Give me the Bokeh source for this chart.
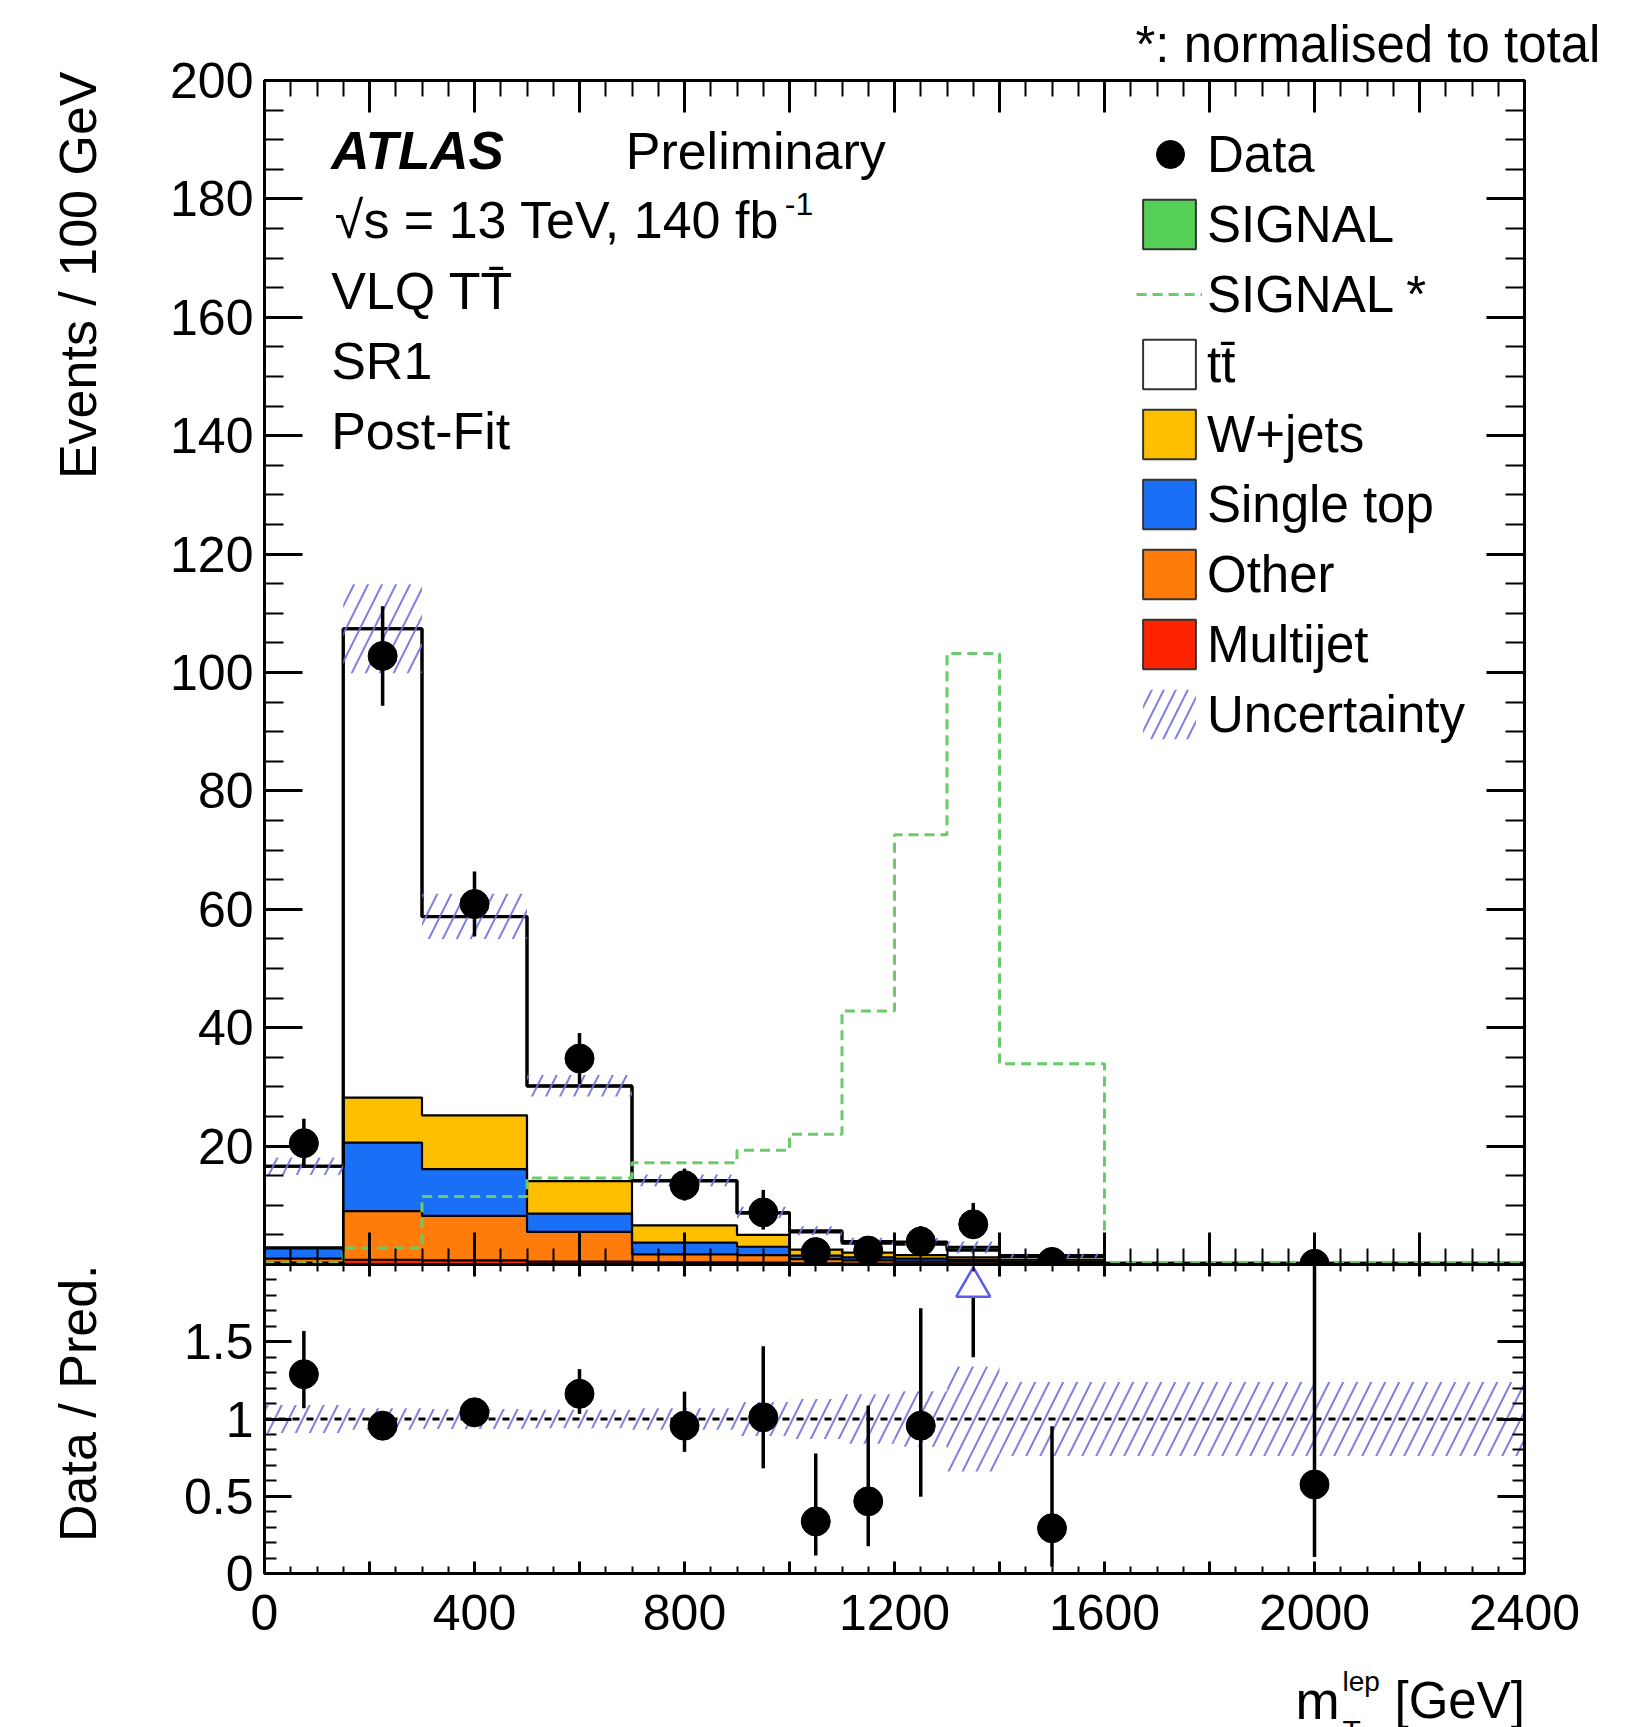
import numpy as np
from bokeh.plotting import figure
from bokeh.models import (Range1d, LinearAxis, FixedTicker, Label, Legend,
                          LegendItem, Span)
from bokeh.core.properties import value
from bokeh.layouts import column, row
from bokeh.embed import file_html
from bokeh.resources import INLINE

# ------------------------------------------------------------------ data
bin_edges = [0, 150, 300, 500, 700, 900, 1000, 1100, 1200, 1300, 1400, 1600, 2400]

multijet   = [0.30, 0.80, 0.70, 0.50, 0.35, 0.30, 0.20, 0.15, 0.10, 0.10, 0.05, 0.02]
other      = [0.70, 8.20, 7.50, 5.00, 1.35, 1.30, 0.70, 0.55, 0.40, 0.40, 0.25, 0.04]
single_top = [1.70, 11.6, 7.90, 3.10, 2.00, 1.40, 0.60, 0.50, 0.50, 0.30, 0.20, 0.04]
w_jets     = [0.20, 7.60, 9.10, 5.50, 2.90, 2.00, 1.00, 0.80, 0.60, 0.40, 0.30, 0.05]
ttbar      = [13.7, 79.2, 33.55, 16.0, 7.50, 3.65, 3.00, 1.60, 1.80, 1.20, 0.50, 0.05]
signal     = [0.00, 0.00, 0.05, 0.10, 0.10, 0.15, 0.20, 0.30, 0.40, 0.50, 0.20, 0.00]
signal_normalised = [0.3, 2.8, 11.5, 14.6, 17.2, 19.3, 22.0, 42.8, 72.6, 103.2, 33.9, 0.3]
rel_uncertainty = [0.09, 0.07, 0.065, 0.06, 0.07, 0.11, 0.13, 0.16, 0.18, 0.34, 0.24, 0.24]

data_x      = [75, 225, 400, 600, 800, 950, 1050, 1150, 1250, 1350, 1500, 2000]
data_y      = [20.5, 102.8, 60.9, 34.8, 13.4, 8.8, 2.1, 2.35, 3.9, 6.8, 0.44, 0.12]
data_err_up = [4.1, 8.4, 5.5, 4.3, 2.8, 3.8, 1.5, 1.6, 2.6, 3.6, 0.6, 0.15]
data_err_dn = [3.9, 8.4, 5.5, 4.3, 2.6, 2.9, 1.4, 1.4, 2.0, 2.5, 0.4, 0.12]

ratio_y      = [1.29, 0.957, 1.043, 1.163, 0.957, 1.011, 0.337, 0.467, 0.957, 2.38, 0.293, 0.576]
ratio_err_up = [0.28, 0.08, 0.09, 0.16, 0.22, 0.46, 0.44, 0.62, 0.76, 1.60, 0.66, 1.60]
ratio_err_dn = [0.22, 0.08, 0.09, 0.13, 0.17, 0.33, 0.22, 0.29, 0.46, 0.98, 0.25, 0.47]

x_major_ticks = [0, 200, 400, 600, 800, 1000, 1200, 1400, 1600, 1800, 2000, 2200, 2400]
x_tick_labels = ["0", "", "400", "", "800", "", "1200", "", "1600", "", "2000", "", "2400"]
x_minor_ticks = list(range(0, 2401, 50))
y_main_ticks = [20, 40, 60, 80, 100, 120, 140, 160, 180, 200]
y_main_minor = list(range(0, 201, 5))
y_ratio_ticks = [0, 0.5, 1, 1.5]
y_ratio_labels = ["0", "0.5", "1", "1.5"]
y_ratio_minor = [round(0.1 * i, 1) for i in range(21)]

FONT = "Liberation Sans"

C_SIGNAL = "#55cf55"
C_WJETS = "#fdbf00"
C_STOP = "#1a6ff7"
C_OTHER = "#ff7b0a"
C_MULTI = "#ff2400"
C_HATCH = "#7272de"
HATCH_SCALE = 28

edges = np.array(bin_edges, dtype=float)
left, right = edges[:-1], edges[1:]
NAN1 = [float("nan")]

W_LEFT = 120            # width of the left caption strip
BORDER_L = 264 - W_LEFT
BORDER_R = 111
x_range = Range1d(0, 2400)


def style_axis(ax, major_in, minor_in, labels, font_size="50px", standoff=10, overrides=None):
    ax.axis_line_width = 3
    ax.axis_line_color = "black"
    ax.major_tick_in = major_in
    ax.major_tick_out = 0
    ax.minor_tick_in = minor_in
    ax.minor_tick_out = 0
    ax.major_tick_line_width = 3
    ax.minor_tick_line_width = 2
    ax.major_tick_line_color = "black"
    ax.minor_tick_line_color = "black"
    if labels:
        ax.major_label_text_font = FONT
        ax.major_label_text_font_size = font_size
        ax.major_label_text_color = "black"
        ax.major_label_standoff = standoff
        if overrides is not None:
            ax.major_label_overrides = overrides
    else:
        ax.major_label_text_font_size = "0px"
        ax.major_label_standoff = 0


def bare(fig):
    fig.xgrid.visible = False
    fig.ygrid.visible = False
    fig.background_fill_color = "white"
    fig.border_fill_color = "white"


def add_label(fig, x, y, text, size, style="normal", angle=0.0, align="left"):
    fig.add_layout(Label(x=x, y=y, text=text, text_font=FONT, text_font_size=size,
                         text_font_style=style, text_color="black", angle=angle,
                         text_align=align, text_baseline="middle"))


# ------------------------------------------------------------------ main panel
main = figure(frame_width=1260, frame_height=1184, x_range=x_range,
              y_range=Range1d(0, 200), x_axis_location=None, y_axis_location=None,
              toolbar_location=None, output_backend="svg",
              min_border_left=BORDER_L, min_border_right=BORDER_R, min_border_top=80,
              min_border_bottom=0)
bare(main)
main.outline_line_color = "black"
main.outline_line_width = 3

# note above the frame, running towards the right edge as in the original
main.title.text = "*: normalised to total"
main.title.align = "left"
main.title.offset = 871
main.title.standoff = 16
main.title.text_font = FONT
main.title.text_font_size = "51px"
main.title.text_font_style = "normal"
main.title.text_color = "black"

x_ticker = FixedTicker(ticks=x_major_ticks, minor_ticks=x_minor_ticks)
y_ticker = FixedTicker(ticks=y_main_ticks, minor_ticks=y_main_minor)
x_overrides = {t: lab for t, lab in zip(x_major_ticks, x_tick_labels)}

ax = LinearAxis(ticker=y_ticker); style_axis(ax, 38, 19, True, standoff=11); main.add_layout(ax, "left")
ax = LinearAxis(ticker=y_ticker); style_axis(ax, 38, 19, False); main.add_layout(ax, "right")
ax = LinearAxis(ticker=x_ticker); style_axis(ax, 32, 16, False); main.add_layout(ax, "above")
ax = LinearAxis(ticker=x_ticker); style_axis(ax, 32, 16, False); main.add_layout(ax, "below")

components = [(multijet, C_MULTI), (other, C_OTHER), (single_top, C_STOP),
              (w_jets, C_WJETS), (ttbar, "white"), (signal, C_SIGNAL)]
bottom = np.zeros(len(left))
tops = []
for vals, col in components:
    top = bottom + np.array(vals)
    main.quad(left=left, right=right, bottom=bottom, top=top, fill_color=col,
              line_color=None)
    tops.append(top)
    bottom = top
for i, top in enumerate(tops):
    main.step(x=edges, y=np.append(top, top[-1]), mode="after", line_color="black",
              line_width=3 if i >= 4 else 2.2)

total = tops[-1]
unc = np.array(rel_uncertainty)
main.quad(left=left, right=right, bottom=total * (1 - unc), top=total * (1 + unc),
          fill_color=None, line_color=None, hatch_pattern="/", hatch_color=C_HATCH,
          hatch_alpha=0.9, hatch_scale=HATCH_SCALE, hatch_weight=2)

sig_norm = np.array(signal_normalised)
r_signorm = main.step(x=edges, y=np.append(sig_norm, sig_norm[-1]), mode="after",
                      line_color="#6acb6a", line_dash="10 6", line_width=3)

dx = np.array(data_x, dtype=float)
dy = np.array(data_y)
main.segment(x0=dx, y0=dy - np.array(data_err_dn), x1=dx, y1=dy + np.array(data_err_up),
             line_color="black", line_width=3.5)
main.scatter(dx, dy, size=29, marker="circle", fill_color="black", line_color="black")

# legend proxies (a single NaN entry: nothing is drawn in the plot)
leg_data = main.scatter(NAN1, NAN1, marker="circle", fill_color="black", line_color="black")


def leg_box(fill):
    return main.quad(left=NAN1, right=NAN1, top=NAN1, bottom=NAN1, fill_color=fill,
                     line_color="#333333", line_width=2)


leg_sig = leg_box(C_SIGNAL)
leg_tt = leg_box("white")
leg_w = leg_box(C_WJETS)
leg_st = leg_box(C_STOP)
leg_ot = leg_box(C_OTHER)
leg_mj = leg_box(C_MULTI)
leg_unc = main.quad(left=NAN1, right=NAN1, top=NAN1, bottom=NAN1, fill_color=None,
                    line_color=None, hatch_pattern="/", hatch_color=C_HATCH,
                    hatch_alpha=0.9, hatch_scale=24, hatch_weight=2)

legend_data = Legend(items=[LegendItem(label=value("Data"), renderers=[leg_data])],
                     location=(871, 1075), glyph_width=70, glyph_height=70,
                     label_height=70, label_standoff=2, padding=0, margin=0,
                     border_line_alpha=0, background_fill_alpha=0,
                     label_text_font=FONT, label_text_font_size="51px",
                     label_text_color="black")
legend_main = Legend(items=[LegendItem(label=value("SIGNAL"), renderers=[leg_sig]),
                            LegendItem(label=value("SIGNAL *"), renderers=[r_signorm]),
                            LegendItem(label=value("tt\u0304"), renderers=[leg_tt]),
                            LegendItem(label=value("W+jets"), renderers=[leg_w]),
                            LegendItem(label=value("Single top"), renderers=[leg_st]),
                            LegendItem(label=value("Other"), renderers=[leg_ot]),
                            LegendItem(label=value("Multijet"), renderers=[leg_mj]),
                            LegendItem(label=value("Uncertainty"), renderers=[leg_unc])],
                     location=(872, 519), glyph_width=66, glyph_height=62,
                     label_height=57, spacing=8, label_standoff=5, padding=0,
                     margin=0, border_line_alpha=0, background_fill_alpha=0,
                     label_text_font=FONT, label_text_font_size="51px",
                     label_text_color="black")
main.add_layout(legend_data)
main.add_layout(legend_main)

add_label(main, 127, 188.1, "ATLAS", "53px", style="bold italic")
add_label(main, 688, 188.1, "Preliminary", "52px")
add_label(main, 134, 176.5, "\u221As = 13 TeV, 140 fb", "52px")
add_label(main, 991, 179.1, "-1", "32px")
add_label(main, 127, 164.4, "VLQ TT\u0304", "52px")
add_label(main, 127, 152.6, "SR1", "52px")
add_label(main, 127, 140.8, "Post-Fit", "52px")

# ------------------------------------------------------------------ ratio panel
ratio_top = 2.0
ratio = figure(frame_width=1260, frame_height=309, x_range=x_range,
               y_range=Range1d(0, ratio_top), x_axis_location=None, y_axis_location=None,
               toolbar_location=None, output_backend="svg",
               min_border_left=BORDER_L, min_border_right=BORDER_R, min_border_top=0,
               min_border_bottom=87)
bare(ratio)
ratio.outline_line_color = "black"
ratio.outline_line_width = 3

ry_ticker = FixedTicker(ticks=y_ratio_ticks, minor_ticks=y_ratio_minor)
ry_overrides = {t: lab for t, lab in zip(y_ratio_ticks, y_ratio_labels)}
ax = LinearAxis(ticker=ry_ticker); style_axis(ax, 27, 12, True, standoff=11, overrides=ry_overrides); ratio.add_layout(ax, "left")
ax = LinearAxis(ticker=ry_ticker); style_axis(ax, 27, 12, False); ratio.add_layout(ax, "right")
ax = LinearAxis(ticker=x_ticker); style_axis(ax, 12, 7, False); ratio.add_layout(ax, "above")
ax = LinearAxis(ticker=x_ticker); style_axis(ax, 12, 7, True, standoff=21, overrides=x_overrides); ratio.add_layout(ax, "below")

ratio.quad(left=left, right=right, bottom=1 - unc, top=1 + unc, fill_color=None,
           line_color=None, hatch_pattern="/", hatch_color=C_HATCH, hatch_alpha=0.9,
           hatch_scale=HATCH_SCALE, hatch_weight=2)
ratio.add_layout(Span(location=1, dimension="width", line_color="black",
                      line_dash="7 7", line_width=3))

ry = np.array(ratio_y)
rup = np.array(ratio_err_up)
rdn = np.array(ratio_err_dn)
inside = ry <= ratio_top
out = ~inside
ratio.segment(x0=dx[inside], y0=(ry - rdn)[inside], x1=dx[inside], y1=(ry + rup)[inside],
              line_color="black", line_width=3.5)
ratio.scatter(dx[inside], ry[inside], size=29, marker="circle", fill_color="black",
              line_color="black")
arrow_y = ratio_top - 0.145
n_out = int(out.sum())
ratio.segment(x0=dx[out], y0=(ry - rdn)[out], x1=dx[out], y1=np.full(n_out, arrow_y - 0.065),
              line_color="black", line_width=3.5)
ratio.scatter(dx[out], np.full(n_out, arrow_y), marker="triangle", size=34,
              fill_color=None, line_color="#5a5af0", line_width=2.5)

# ------------------------------------------------------------------ x-axis title strip
# (same borders as the panels; y grows downward in page pixels)
bottom_cap = figure(frame_width=1260, frame_height=67, x_range=Range1d(264, 1524),
                    y_range=Range1d(1727, 1660), x_axis_location=None,
                    y_axis_location=None, toolbar_location=None, output_backend="svg",
                    min_border_left=BORDER_L, min_border_right=BORDER_R,
                    min_border_top=0, min_border_bottom=0)
bare(bottom_cap)
bottom_cap.outline_line_color = None
add_label(bottom_cap, 1295, 1700, "m", "53px")
add_label(bottom_cap, 1342, 1730, "T", "30px")
add_label(bottom_cap, 1342, 1681, "lep", "28px")
add_label(bottom_cap, 1394, 1700, "[GeV]", "51px")

# ------------------------------------------------------------------ y-axis title strip
left_cap = figure(frame_width=W_LEFT, frame_height=1727, x_range=Range1d(0, W_LEFT),
                  y_range=Range1d(1727, 0), x_axis_location=None, y_axis_location=None,
                  toolbar_location=None, output_backend="svg", min_border=0,
                  min_border_left=0, min_border_right=0, min_border_top=0,
                  min_border_bottom=0)
bare(left_cap)
left_cap.outline_line_color = None
add_label(left_cap, 77, 71, "Events / 100 GeV", "52px", angle=np.pi / 2, align="right")
add_label(left_cap, 77, 1264, "Data / Pred.", "52px", angle=np.pi / 2, align="right")

layout = row(left_cap, column(main, ratio, bottom_cap, spacing=0), spacing=0)
open("out.html", "w").write(file_html(layout, INLINE))
